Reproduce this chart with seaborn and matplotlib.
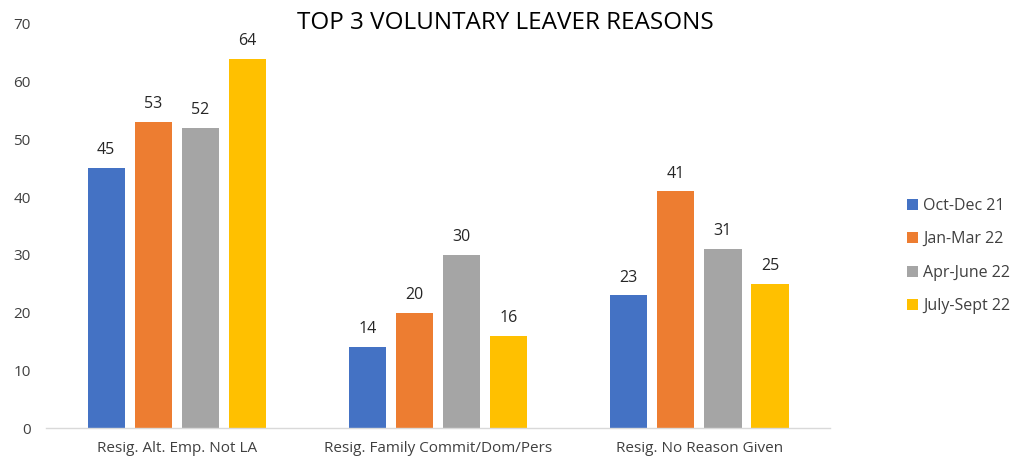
import matplotlib
matplotlib.use("Agg")
import matplotlib.pyplot as plt
import seaborn as sns
import pandas as pd

categories = ["Resig. Alt. Emp. Not LA", "Resig. Family Commit/Dom/Pers", "Resig. No Reason Given"]
periods = ["Oct-Dec 21", "Jan-Mar 22", "Apr-June 22", "July-Sept 22"]
values = {
    "Oct-Dec 21": [45, 14, 23],
    "Jan-Mar 22": [53, 20, 41],
    "Apr-June 22": [52, 30, 31],
    "July-Sept 22": [64, 16, 25],
}
colors = ["#4472C4", "#ED7D31", "#A5A5A5", "#FFC000"]

rows = []
for p in periods:
    for c, v in zip(categories, values[p]):
        rows.append({"Reason": c, "Period": p, "Count": v})
df = pd.DataFrame(rows)

sns.set_theme(style="white")
plt.rcParams["font.family"] = ["Open Sans", "DejaVu Sans"]

fig = plt.figure(figsize=(10.16, 4.59), dpi=100)
ax = fig.add_axes([0.0453, 0.0675, 0.7717, 0.8805])

sns.barplot(data=df, x="Reason", y="Count", hue="Period", hue_order=periods,
            order=categories, palette=colors, width=0.72, gap=0.21,
            saturation=1, linewidth=0, ax=ax, legend=True)

for cont in ax.containers:
    ax.bar_label(cont, padding=7, fontsize=11.5, color="#262626")

ax.set_ylim(0, 70)
ax.set_yticks(range(0, 71, 10))
ax.set_xlim(-0.5, 2.5)
ax.set_xlabel("")
ax.set_ylabel("")
ax.tick_params(axis="both", length=0, labelsize=11, colors="#404040")
ax.tick_params(axis="y", pad=11)
ax.tick_params(axis="x", pad=9)
for s in ["top", "right", "left"]:
    ax.spines[s].set_visible(False)
ax.spines["bottom"].set_color("#D9D9D9")
ax.spines["bottom"].set_linewidth(1)

fig.text(0.497, 0.950, "TOP 3 VOLUNTARY LEAVER REASONS", ha="center", va="center",
         fontsize=17.5, color="#000000")

leg = ax.legend(loc="center left", bbox_to_anchor=(0.893, 0.442), bbox_transform=fig.transFigure,
                frameon=False, fontsize=11.5, handlelength=0.7, handleheight=0.7,
                handletextpad=0.3, labelspacing=1.1, borderaxespad=0, borderpad=0)
for t in leg.get_texts():
    t.set_color("#404040")

fig.savefig("out.png", dpi=100)
